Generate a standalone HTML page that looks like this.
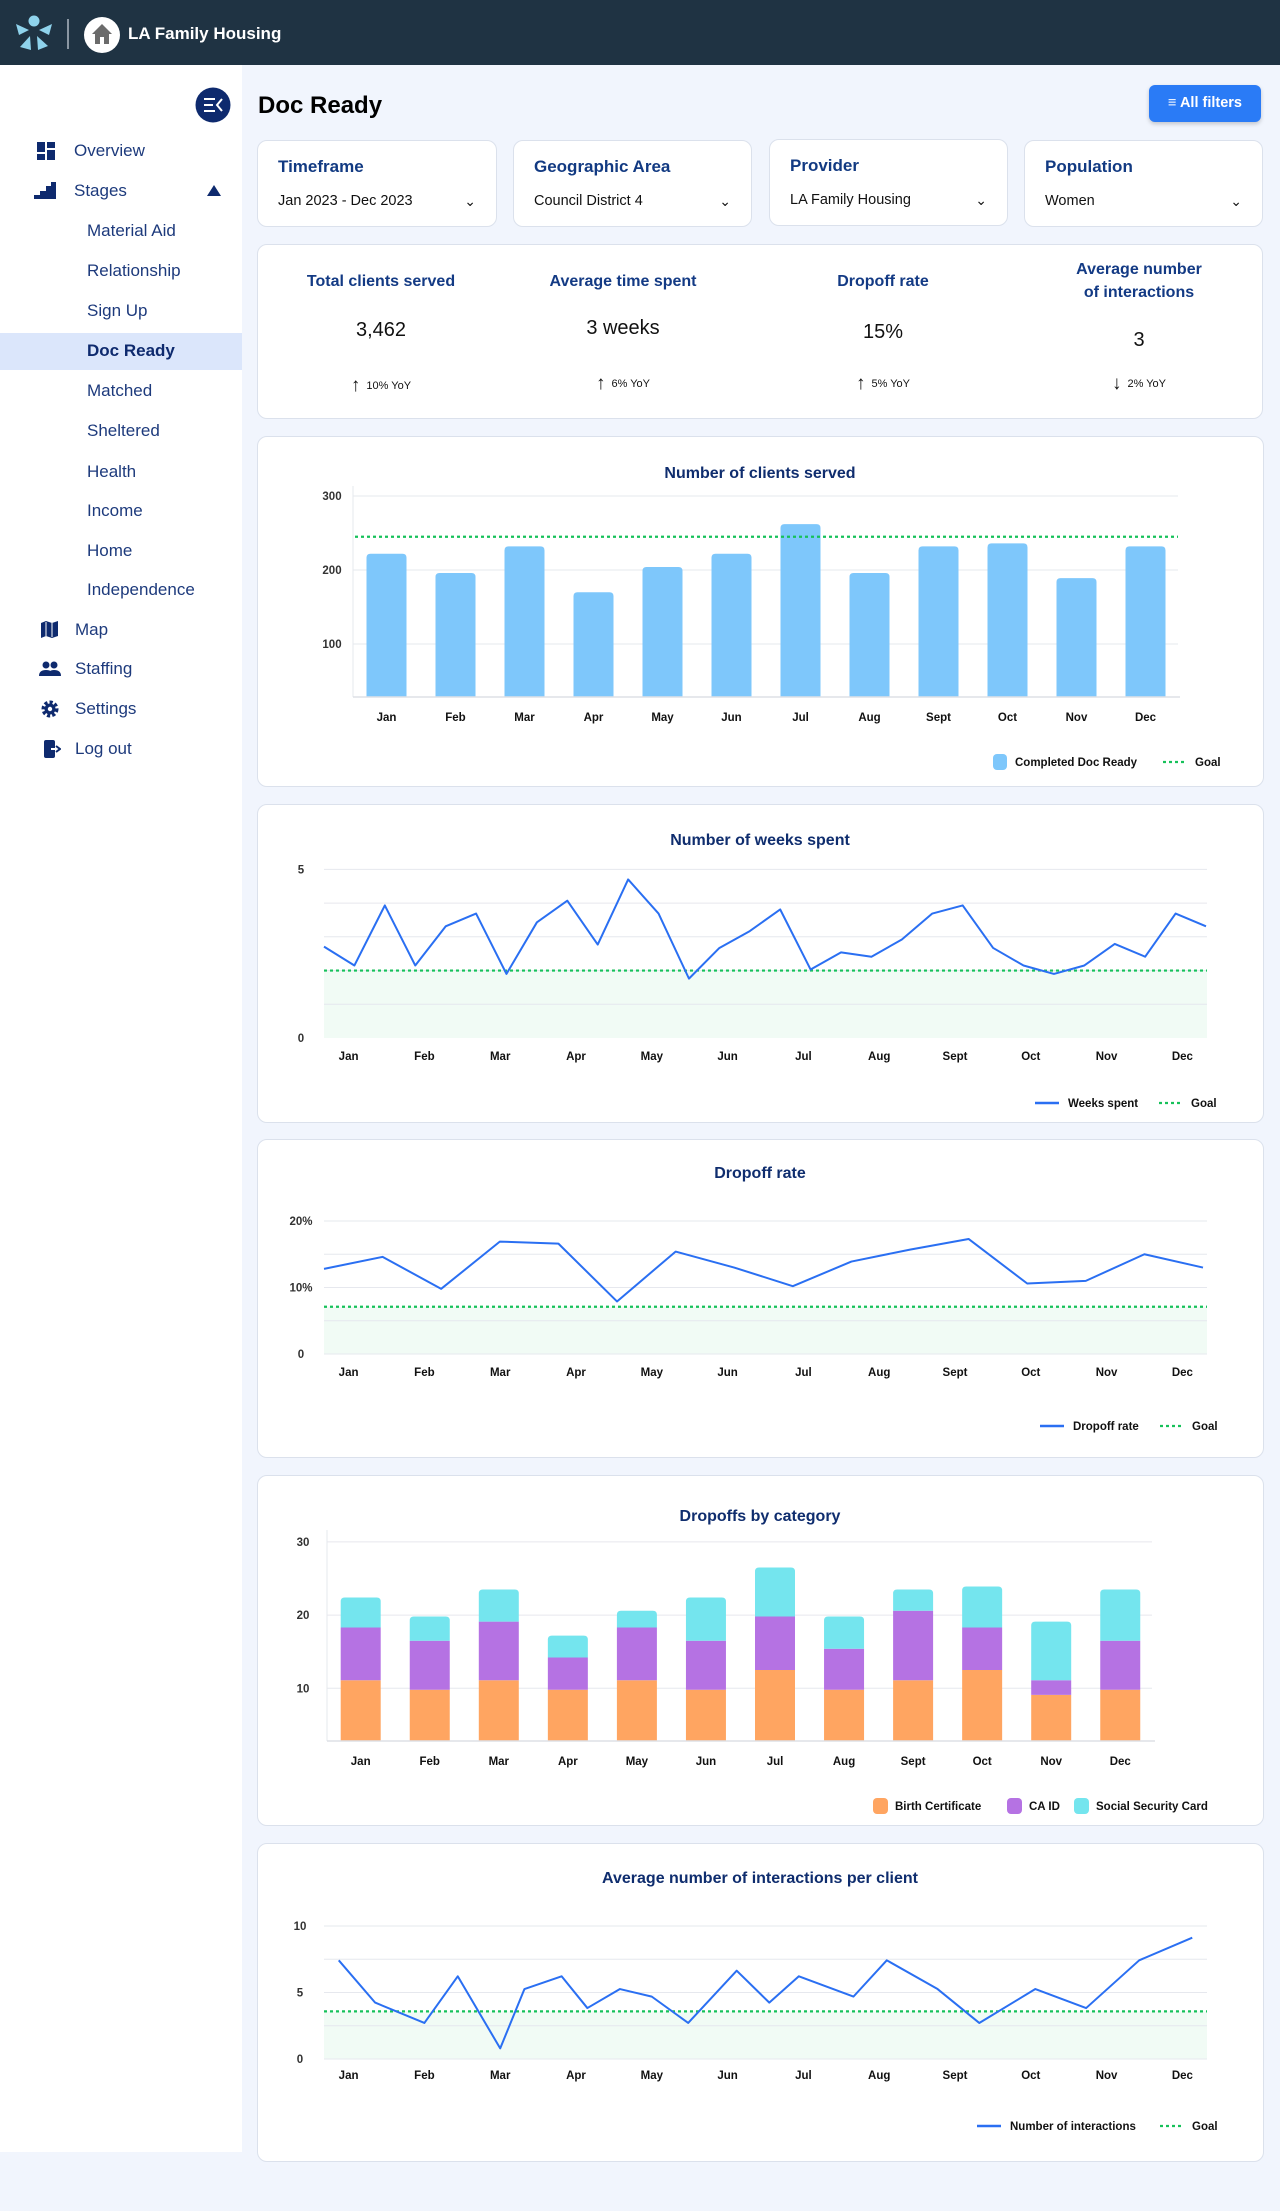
<!DOCTYPE html>
<html><head><meta charset="utf-8">
<style>
*{box-sizing:border-box;margin:0;padding:0}
body{width:1280px;height:2211px;background:#f1f5fd;font-family:"Liberation Sans",sans-serif;position:relative;overflow:hidden}
.abs{position:absolute}
.card{position:absolute;background:#fff;border:1px solid #dbe1ec;border-radius:10px}
.nav{position:absolute;font-size:17px;color:#1d3a7c;transform:translateY(-50%)}
.flabel{position:absolute;left:20px;top:16px;font-size:17px;font-weight:bold;color:#123a82}
.fval{position:absolute;left:20px;top:52px;font-size:14.5px;color:#111}
.chev{position:absolute;right:20px;top:52px;font-size:14px;color:#111}
.kt{position:absolute;width:250px;text-align:center;font-size:16px;font-weight:bold;color:#133a84;line-height:23px}
.kv{position:absolute;width:250px;text-align:center;font-size:20px;color:#111}
.ky{position:absolute;width:250px;text-align:center;font-size:11px;color:#111}
.ky b{font-size:19px;font-weight:normal;vertical-align:-2px;margin-right:6px}
svg text{font-family:"Liberation Sans",sans-serif}
</style></head><body>
<div class="abs" style="left:0;top:0;width:1280px;height:65px;background:#1f3343"></div>
<svg class="abs" style="left:0;top:0" width="70" height="65">
<circle cx="34" cy="21" r="5.5" fill="#8fd3ec"/>
<polygon points="16,24 29,30 19,35" fill="#8fd3ec"/><polygon points="52,24 39,30 49,35" fill="#8fd3ec"/>
<polygon points="30,36 20,47 31,50" fill="#8fd3ec"/><polygon points="37,36 48,46 38,50" fill="#8fd3ec"/>
</svg>
<div class="abs" style="left:67px;top:19px;width:2px;height:30px;background:#8a96a2"></div>
<svg class="abs" style="left:84px;top:17px" width="36" height="36"><circle cx="18" cy="18" r="18" fill="#fff"/><polygon points="18,7 8,17 11,17 11,27 25,27 25,17 28,17" fill="#6b6b6b"/><rect x="16" y="20" width="4" height="7" fill="#fff"/></svg>
<div class="abs" style="left:128px;top:24px;font-size:17px;font-weight:bold;color:#fff">LA Family Housing</div>

<div class="abs" style="left:0;top:65px;width:242px;height:2087px;background:#fff"></div>
<svg class="abs" style="left:195px;top:87px" width="36" height="36"><circle cx="18" cy="18" r="17.5" fill="#0e2a6e"/><g stroke="#fff" stroke-width="2"><line x1="9" y1="12" x2="20" y2="12"/><line x1="9" y1="18" x2="18" y2="18"/><line x1="9" y1="24" x2="20" y2="24"/><polyline points="27,12 22,18 27,24" fill="none"/></g></svg>
<div class="abs" style="left:0;top:333px;width:242px;height:37px;background:#dbe6fb"></div>
<svg class="abs" style="left:37px;top:142px" width="18" height="18"><rect x="0" y="0" width="8" height="10" fill="#0e2a6e"/><rect x="10" y="0" width="8" height="6" fill="#0e2a6e"/><rect x="0" y="12" width="8" height="6" fill="#0e2a6e"/><rect x="10" y="8" width="8" height="10" fill="#0e2a6e"/></svg>
<div class="nav" style="left:74px;top:151px">Overview</div>
<svg class="abs" style="left:34px;top:182px" width="22" height="17"><polygon points="0,17 0,13 6,13 6,9 12,9 12,4 17,4 17,0 22,0 22,17" fill="#0e2a6e"/></svg>
<div class="nav" style="left:74px;top:191px">Stages</div>
<svg class="abs" style="left:207px;top:185px" width="14" height="11"><polygon points="7,0 14,11 0,11" fill="#0e2a6e"/></svg>
<div class="nav" style="left:87px;top:231px">Material Aid</div>
<div class="nav" style="left:87px;top:271px">Relationship</div>
<div class="nav" style="left:87px;top:311px">Sign Up</div>
<div class="nav" style="left:87px;top:351px;font-weight:bold;color:#0e2a6e">Doc Ready</div>
<div class="nav" style="left:87px;top:391px">Matched</div>
<div class="nav" style="left:87px;top:431px">Sheltered</div>
<div class="nav" style="left:87px;top:472px">Health</div>
<div class="nav" style="left:87px;top:511px">Income</div>
<div class="nav" style="left:87px;top:551px">Home</div>
<div class="nav" style="left:87px;top:590px">Independence</div>
<svg class="abs" style="left:41px;top:621px" width="17" height="17"><polygon points="0,2 5,0 11,2 17,0 17,15 11,17 5,15 0,17" fill="#0e2a6e"/><line x1="5" y1="1" x2="5" y2="15" stroke="#fff" stroke-width="1"/><line x1="11" y1="2" x2="11" y2="16" stroke="#fff" stroke-width="1"/></svg>
<div class="nav" style="left:75px;top:630px">Map</div>
<svg class="abs" style="left:39px;top:661px" width="22" height="15"><circle cx="7" cy="4" r="3.5" fill="#0e2a6e"/><circle cx="15" cy="4" r="3.5" fill="#0e2a6e"/><path d="M0,15 Q0,9 7,9 Q14,9 14,15Z" fill="#0e2a6e"/><path d="M9,15 Q9,9 15,9 Q22,9 22,15Z" fill="#0e2a6e"/></svg>
<div class="nav" style="left:75px;top:669px">Staffing</div>
<svg class="abs" style="left:41px;top:700px" width="18" height="18"><circle cx="9" cy="9" r="6.5" fill="none" stroke="#0e2a6e" stroke-width="4" stroke-dasharray="3 2"/><circle cx="9" cy="9" r="5.5" fill="#0e2a6e"/><circle cx="9" cy="9" r="2.2" fill="#fff"/></svg>
<div class="nav" style="left:75px;top:709px">Settings</div>
<svg class="abs" style="left:44px;top:740px" width="17" height="18"><rect x="0" y="0" width="11" height="18" rx="2" fill="#0e2a6e"/><line x1="7" y1="9" x2="15" y2="9" stroke="#fff" stroke-width="2"/><polyline points="12,6 16,9 12,12" fill="none" stroke="#0e2a6e" stroke-width="2"/></svg>
<div class="nav" style="left:75px;top:749px">Log out</div>

<div class="abs" style="left:258px;top:92px;font-size:24px;font-weight:bold;color:#000">Doc Ready</div>
<div class="abs" style="left:1149px;top:85px;width:112px;height:37px;background:#2a7bf6;border-radius:6px;color:#fff;font-size:14.5px;font-weight:bold;line-height:37px;text-align:center;box-shadow:0 2px 4px rgba(0,0,0,.2)">&#8801; All filters</div>

<div class="card" style="left:257px;top:140px;width:240px;height:87px"><div class="flabel">Timeframe</div><div class="fval">Jan 2023 - Dec 2023</div><div class="chev">&#8964;</div></div>
<div class="card" style="left:513px;top:140px;width:239px;height:87px"><div class="flabel">Geographic Area</div><div class="fval">Council District 4</div><div class="chev">&#8964;</div></div>
<div class="card" style="left:769px;top:139px;width:239px;height:87px"><div class="flabel">Provider</div><div class="fval">LA Family Housing</div><div class="chev">&#8964;</div></div>
<div class="card" style="left:1024px;top:140px;width:239px;height:87px"><div class="flabel">Population</div><div class="fval">Women</div><div class="chev">&#8964;</div></div>

<div class="card" style="left:257px;top:244px;width:1006px;height:175px">
<div class="kt" style="left:-2px;top:25px">Total clients served</div>
<div class="kv" style="left:-2px;top:74px">3,462</div>
<div class="ky" style="left:-2px;top:130px"><b>&#8593;</b>10% YoY</div>
<div class="kt" style="left:240px;top:25px">Average time spent</div>
<div class="kv" style="left:240px;top:72px">3 weeks</div>
<div class="ky" style="left:240px;top:128px"><b>&#8593;</b>6% YoY</div>
<div class="kt" style="left:500px;top:25px">Dropoff rate</div>
<div class="kv" style="left:500px;top:76px">15%</div>
<div class="ky" style="left:500px;top:128px"><b>&#8593;</b>5% YoY</div>
<div class="kt" style="left:756px;top:13px">Average number<br>of interactions</div>
<div class="kv" style="left:756px;top:84px">3</div>
<div class="ky" style="left:756px;top:128px"><b>&#8595;</b>2% YoY</div>
</div>

<div class="card" style="left:257px;top:436px;width:1007px;height:351px"></div>
<div class="card" style="left:257px;top:804px;width:1007px;height:319px"></div>
<div class="card" style="left:257px;top:1139px;width:1007px;height:319px"></div>
<div class="card" style="left:257px;top:1475px;width:1007px;height:351px"></div>
<div class="card" style="left:257px;top:1843px;width:1007px;height:319px"></div>

<svg id="charts" class="abs" style="left:0;top:0" width="1280" height="2211"></svg>

<script>
// ---- data ----
const months = ["Jan","Feb","Mar","Apr","May","Jun","Jul","Aug","Sept","Oct","Nov","Dec"];
const clientsServed = [222,196,232,170,204,222,262,196,232,236,189,232];
const clientsGoal = 245;
const clientsTicks = [100,200,300];
const weeksSpent = [2.71,2.15,3.93,2.15,3.31,3.69,1.90,3.43,4.07,2.77,4.70,3.69,1.76,2.67,3.17,3.81,2.03,2.54,2.41,2.92,3.69,3.93,2.67,2.15,1.90,2.15,2.79,2.41,3.69,3.31];
const weeksGoal = 2;
const weeksTicks = [0,5];
const dropoffRate = [12.8,14.6,9.8,16.9,16.6,7.9,15.4,13.0,10.2,13.9,15.7,17.3,10.6,11.0,15.0,13.0];
const dropoffGoal = 7.1;
const dropoffTickLabels = ["0","10%","20%"];
const dropoffTickValues = [0,10,20];
const birthCert = [11.1,9.8,11.1,9.8,11.1,9.8,12.5,9.8,11.1,12.5,9.1,9.8];
const caId = [7.2,6.7,8.0,4.4,7.2,6.7,7.3,5.6,9.5,5.8,2.0,6.7];
const socialSec = [4.1,3.3,4.4,3.0,2.3,5.9,6.7,4.4,2.9,5.6,8.0,7.0];
const stackTicks = [10,20,30];
const interactionsMonth = [-0.13,0.35,1.0,1.44,2.0,2.32,2.81,3.15,3.58,4.0,4.48,5.12,5.55,5.94,6.66,7.1,7.77,8.32,9.06,9.73,10.43,11.13];
const interactionsValue = [7.42,4.24,2.71,6.22,0.80,5.26,6.22,3.83,5.26,4.69,2.71,6.64,4.24,6.22,4.69,7.42,5.26,2.71,5.26,3.83,7.42,9.12];
const interactionsGoal = 3.58;
const interactionsTicks = [0,5,10];

const NS="http://www.w3.org/2000/svg";
const svg=document.getElementById('charts');
function el(tag,attrs,txt){const e=document.createElementNS(NS,tag);for(const k in attrs)e.setAttribute(k,attrs[k]);if(txt!==undefined)e.textContent=txt;svg.appendChild(e);return e;}
const GRID="#e6e8ee", BLUE="#2a6ff2", GREEN="#16c15a", FILL="#f1fbf5";
function title(x,y,t,name){const e=el('text',{x:x,y:y,'text-anchor':'middle','font-size':16,'font-weight':'bold',fill:'#0f2d6e'},t);}
function label(x,y,t,anchor,name){const e=el('text',{x:x,y:y,'text-anchor':anchor,'font-size':11.5,'font-weight':'bold',fill:'#111'},t);return e;}
function ylabel(x,y,t,name){const e=el('text',{x:x,y:y+4,'text-anchor':'middle','font-size':11.5,'font-weight':'bold',fill:'#333'},t);}
function goalLine(x1,x2,y){const e=el('line',{x1:x1,x2:x2,y1:y,y2:y,stroke:GREEN,'stroke-width':2.2,'stroke-dasharray':'3 3'});}
function legendLine(x,y,t){const a=el('line',{x1:x,x2:x+24,y1:y,y2:y,stroke:BLUE,'stroke-width':2.5});label(x+33,y+4,t,'start','legend-series-label');}
function legendGoal(x,y){goalLine(x,x+24,y);label(x+32,y+4,'Goal','start','legend-goal-label');}
function barPath(x,y,w,h,r){return `M${x},${y+h}V${y+r}Q${x},${y} ${x+r},${y}H${x+w-r}Q${x+w},${y} ${x+w},${y+r}V${y+h}Z`;}

// ---- Chart 1: clients served ----
(function(){
  const y=v=>697-(v-28.4)*0.740, xc=i=>386.5+i*69;
  title(760,478,'Number of clients served','clients-chart-title');
  clientsTicks.forEach(t=>{const g=el('line',{x1:353,x2:1178,y1:y(t),y2:y(t),stroke:GRID});ylabel(332,y(t),t,'y-tick-label');});
  el('line',{x1:353,x2:353,y1:486,y2:697,stroke:GRID});
  clientsServed.forEach((v,i)=>{const b=el('path',{d:barPath(xc(i)-20,y(v),40,697-y(v),4),fill:'#7ec7fb'});label(xc(i),721,months[i],'middle','x-tick-label');});
  el('line',{x1:353,x2:1180,y1:697,y2:697,stroke:'#dde0e6','stroke-width':1.5});
  goalLine(355,1178,y(clientsGoal));
  const s=el('rect',{x:993,y:754,width:14,height:16,rx:4,fill:'#7ec7fb'});
  label(1015,766,'Completed Doc Ready','start','legend-series-label');
  legendGoal(1163,762);
})();

// ---- line chart helper ----
function lineChart(o){
  title(760,o.titleY,o.title,o.name+'-title');
  const fr=el('rect',{x:324,y:o.y(o.goal),width:883,height:o.y(0)-o.y(o.goal),fill:FILL});
  o.grid.forEach(t=>{const g=el('line',{x1:324,x2:1207,y1:o.y(t),y2:o.y(t),stroke:GRID});});
  o.tickVals.forEach((t,i)=>ylabel(o.tickX,o.y(t),o.tickLabels[i],'y-tick-label'));
  goalLine(324,1207,o.y(o.goal));
  const pts=o.xs.map((x,i)=>x+','+o.y(o.vals[i])).join(' ');
  const p=el('polyline',{points:pts,fill:'none',stroke:BLUE,'stroke-width':2,'stroke-linejoin':'round'});
  months.forEach((m,i)=>label(348.6+75.8*i,o.monthY,m,'middle','x-tick-label'));
  legendLine(o.legX,o.legY,o.legText);legendGoal(o.goalX,o.legY);
}
lineChart({title:'Number of weeks spent',name:'weeks-chart',titleY:845,y:v=>1038-v*33.73,goal:weeksGoal,grid:[1,2,3,4,5],tickVals:weeksTicks,tickLabels:weeksTicks.map(String),tickX:301,
  xs:weeksSpent.map((v,i)=>324+i*(1206-324)/(weeksSpent.length-1)),vals:weeksSpent,monthY:1060,legX:1035,legY:1103,legText:'Weeks spent',goalX:1159});
lineChart({title:'Dropoff rate',name:'dropoff-chart',titleY:1178,y:v=>1354-v*6.65,goal:dropoffGoal,grid:[0,5,10,15,20],tickVals:dropoffTickValues,tickLabels:dropoffTickLabels,tickX:301,
  xs:dropoffRate.map((v,i)=>324+i*(1203-324)/(dropoffRate.length-1)),vals:dropoffRate,monthY:1376,legX:1040,legY:1426,legText:'Dropoff rate',goalX:1160});
lineChart({title:'Average number of interactions per client',name:'interactions-chart',titleY:1883,y:v=>2059-v*13.3,goal:interactionsGoal,grid:[0,2.5,5,7.5,10],tickVals:interactionsTicks,tickLabels:interactionsTicks.map(String),tickX:300,
  xs:interactionsMonth.map(m=>348.6+75.8*m),vals:interactionsValue,monthY:2079,legX:977,legY:2126,legText:'Number of interactions',goalX:1160});

// ---- Chart 4: stacked ----
(function(){
  const y=v=>1741-(v-2.8)*7.32, xc=i=>360.7+i*69.05;
  title(760,1521,'Dropoffs by category','dropoffs-category-title');
  stackTicks.forEach(t=>{const g=el('line',{x1:327,x2:1152,y1:y(t),y2:y(t),stroke:GRID});ylabel(303,y(t),t,'y-tick-label');});
  el('line',{x1:327,x2:327,y1:1530,y2:1741,stroke:GRID});
  const series=[[birthCert,'#ffa561','birth-certificate'],[caId,'#b572e3','ca-id'],[socialSec,'#74e5ee','social-security-card']];
  months.forEach((m,i)=>{let base=0;series.forEach((s,k)=>{const v=s[0][i];const top=base+v;const y0=y(Math.max(base,2.8)),y1=y(top);
    const b=el('path',{d:k===2?barPath(xc(i)-20,y1,40,y0-y1,4):`M${xc(i)-20},${y1}H${xc(i)+20}V${y0}H${xc(i)-20}Z`,fill:s[1]});
    base=top;});
    label(xc(i),1765,m,'middle','x-tick-label');});
  el('line',{x1:327,x2:1155,y1:1741,y2:1741,stroke:'#dde0e6','stroke-width':1.5});
  const lg=[[873,'Birth Certificate','#ffa561'],[1007,'CA ID','#b572e3'],[1074,'Social Security Card','#74e5ee']];
  lg.forEach(l=>{const r=el('rect',{x:l[0],y:1798,width:15,height:16,rx:4,fill:l[2]});label(l[0]+22,1810,l[1],'start','legend-label');});
})();
</script>
</body></html>
